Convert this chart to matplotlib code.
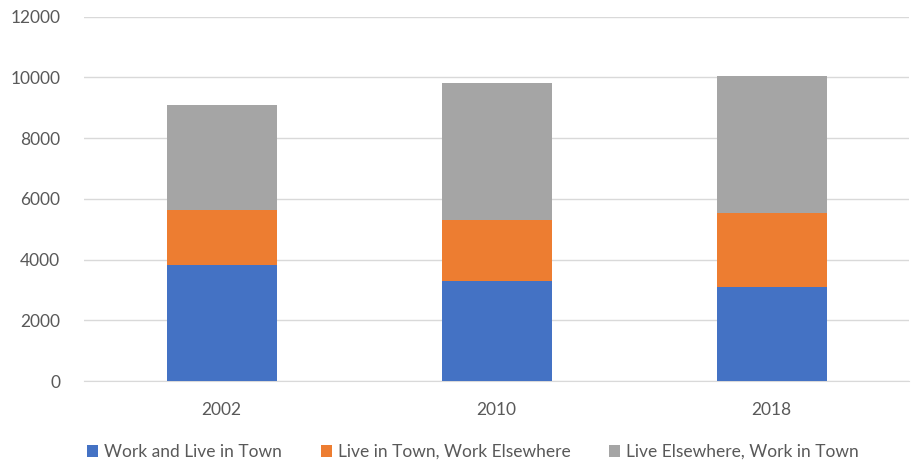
import matplotlib
matplotlib.use("Agg")
import matplotlib.pyplot as plt
import numpy as np

years = ["2002", "2010", "2018"]
work_live = [3820, 3285, 3100]
live_work_else = [1805, 2010, 2435]
live_else_work = [3480, 4535, 4505]

names = ["Work and Live in Town", "Live in Town, Work Elsewhere",
         "Live Elsewhere, Work in Town"]
colors = ["#4472c4", "#ed7d31", "#a5a5a5"]

plt.rcParams['font.family'] = ['Lato', 'DejaVu Sans']

fig = plt.figure(figsize=(9.13, 4.61), dpi=100)
ax = fig.add_axes([84/913, 80/461, 825/913, 364.3/461])

x = np.arange(len(years))
bottom = np.zeros(len(years))
for vals, name, c in zip([work_live, live_work_else, live_else_work], names, colors):
    ax.bar(x, vals, width=0.4, bottom=bottom, color=c, label=name, zorder=3)
    bottom += np.array(vals)

ax.set_xlim(-0.5, 2.5)
ax.set_ylim(0, 12000)
ax.set_yticks(range(0, 12001, 2000))
ax.set_xticks(x)
ax.set_xticklabels(years)
ax.grid(axis='y', color='#d9d9d9', linewidth=1, zorder=0)
for s in ['top', 'right', 'left']:
    ax.spines[s].set_visible(False)
ax.spines['bottom'].set_color('#d9d9d9')
ax.tick_params(axis='both', length=0, colors='#595959', labelsize=12.5)
ax.tick_params(axis='x', pad=15)
ax.tick_params(axis='y', pad=17)

ax.legend(loc='upper center', bbox_to_anchor=(0.5 - 23.5/825, -0.13), ncol=3,
          frameon=False, fontsize=12.5, handlelength=0.65, handleheight=0.65,
          handletextpad=0.35, columnspacing=2.2, labelcolor='#595959')

fig.savefig("out.png", dpi=100)
